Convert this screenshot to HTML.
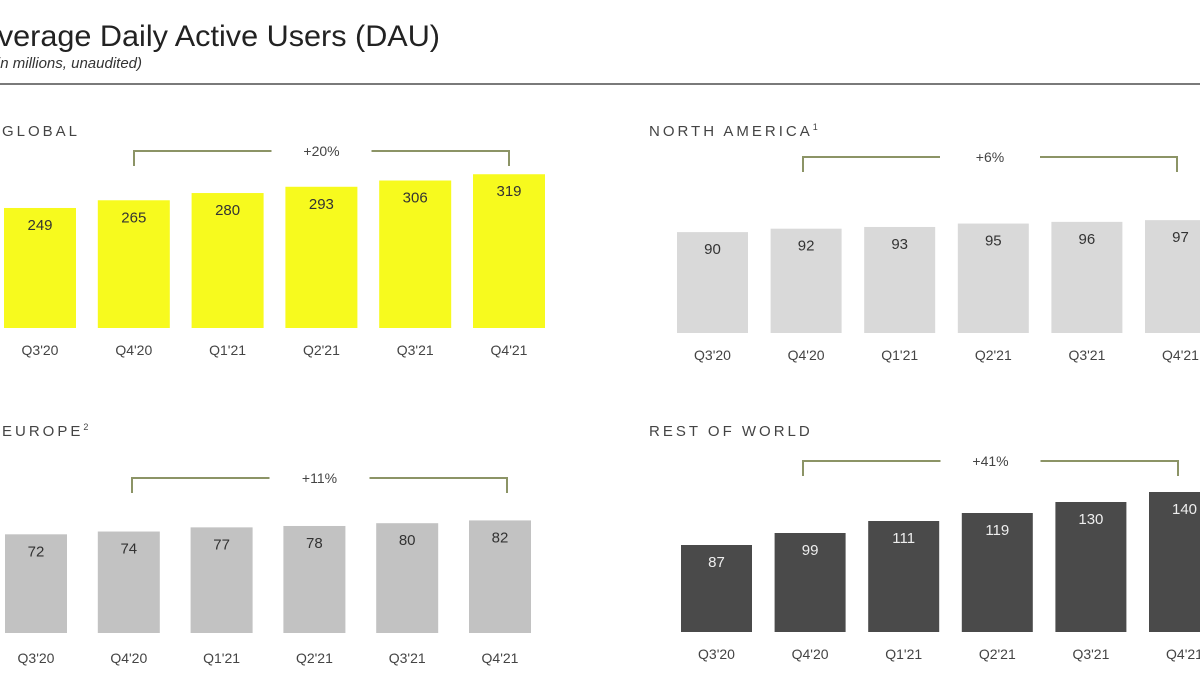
<!DOCTYPE html>
<html><head><meta charset="utf-8"><style>
html,body{margin:0;padding:0;background:#fff;}
svg{display:block;font-family:"Liberation Sans",sans-serif;}
</style></head><body>
<svg id="c" width="1200" height="675" viewBox="0 0 1200 675">
<text x="-22" y="46" font-size="30" fill="#222" textLength="462" lengthAdjust="spacingAndGlyphs">Average Daily Active Users (DAU)</text>
<text x="142" y="68" font-size="15" font-style="italic" fill="#333" text-anchor="end">(in millions, unaudited)</text>
<rect x="0" y="83" width="1200" height="2" fill="#7a7a7a"/>
</svg>
<script>
const categories = ["Q3'20","Q4'20","Q1'21","Q2'21","Q3'21","Q4'21"];
const globalValues = [249,265,280,293,306,319];
const naValues = [90,92,93,95,96,97];
const europeValues = [72,74,77,78,80,82];
const rowValues = [87,99,111,119,130,140];
const growthLabels = ["+20%","+6%","+11%","+41%"];
const panelTitles = ["GLOBAL","NORTH AMERICA","EUROPE","REST OF WORLD"];
const panelSups = ["","1","2",""];

const NS="http://www.w3.org/2000/svg";
const svg=document.getElementById('c');
function mk(tag,attrs,parent){const e=document.createElementNS(NS,tag);for(const k in attrs)e.setAttribute(k,attrs[k]);(parent||svg).appendChild(e);return e;}

const panels=[
 {name:'global',vals:globalValues,x0:4,pitch:93.8,w:72,base:328,k:0.482,b0:0,fill:'#f7fa1e',txt:'#333',titleX:2,titleY:136,brY:151,brX1:134,brX2:509,catY:355},
 {name:'north-america',vals:naValues,x0:677,pitch:93.6,w:71,base:333,k:1.71,b0:31,fill:'#d9d9d9',txt:'#333',titleX:649,titleY:136,brY:157,brX1:803,brX2:1177,catY:360},
 {name:'europe',vals:europeValues,x0:5,pitch:92.8,w:62,base:633,k:1.39,b0:1,fill:'#c2c2c2',txt:'#333',titleX:2,titleY:436,brY:478,brX1:132,brX2:507,catY:663},
 {name:'rest-of-world',vals:rowValues,x0:681,pitch:93.6,w:71,base:632,k:1.0,b0:0,fill:'#4a4a4a',txt:'#eee',titleX:649,titleY:436,brY:461,brX1:803,brX2:1178,catY:659}
];
panels.forEach((p,pi)=>{
  const g=mk('g',{});
  
  
  const t=mk('text',{x:p.titleX,y:p.titleY,'font-size':15,fill:'#444','letter-spacing':'3'},g);
  t.textContent=panelTitles[pi];
  
  
  if(panelSups[pi]){const s=mk('tspan',{'font-size':9,dy:-6},t);s.textContent=panelSups[pi];}
  const xOf=i=>p.x0+i*p.pitch;
  const yOf=v=>p.base-(v-p.b0)*p.k;
  p.vals.forEach((v,i)=>{
    const x=xOf(i),y=yOf(v);
    const r=mk('rect',{x:x,y:y,width:p.w,height:p.base-y,fill:p.fill},g);
    
    
    const l=mk('text',{x:x+p.w/2,y:y+22,'font-size':15,fill:p.txt,'text-anchor':'middle'},g);
    l.textContent=v;
    
    
    const c=mk('text',{x:x+p.w/2,y:p.catY,'font-size':14,fill:'#444','text-anchor':'middle'},g);
    c.textContent=categories[i];
    
    
  });
  const mid=(p.brX1+p.brX2)/2;
  const br=mk('path',{d:`M${p.brX1},${p.brY+15}V${p.brY}H${mid-50}M${mid+50},${p.brY}H${p.brX2}V${p.brY+15}`,fill:'none',stroke:'#8c9466','stroke-width':2},g);
  
  
  const gl=mk('text',{x:mid,y:p.brY+5,'font-size':14,fill:'#444','text-anchor':'middle'},g);
  gl.textContent=growthLabels[pi];
  
  
});
</script>
</body></html>
